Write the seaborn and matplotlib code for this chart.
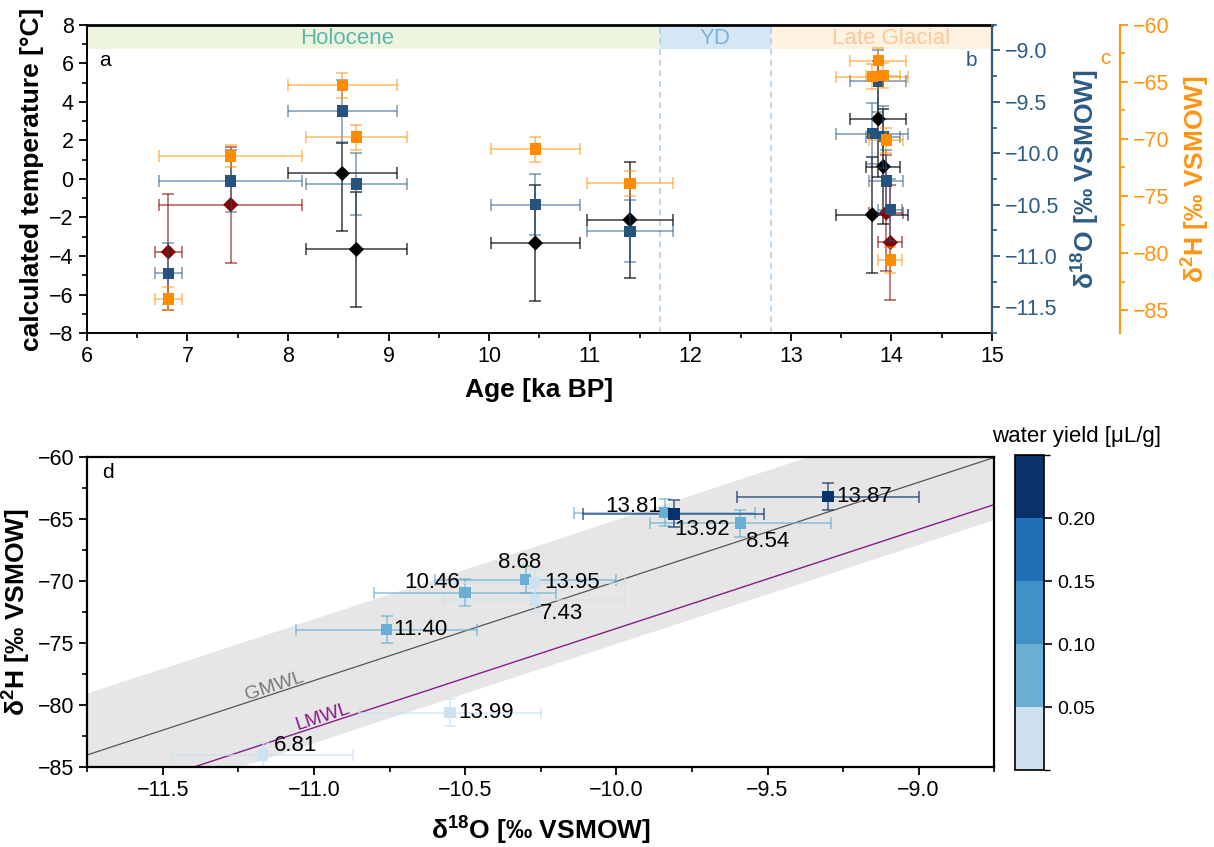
import matplotlib
matplotlib.use("Agg")
import matplotlib.pyplot as plt
from matplotlib.colors import ListedColormap, BoundaryNorm
from matplotlib.cm import ScalarMappable
from matplotlib.ticker import MultipleLocator
import numpy as np
import pandas as pd
import seaborn as sns

# ---------------- data ----------------
# stable isotopes of the fluid inclusions, one entry per sample
ages = [6.81, 7.43, 8.54, 8.68, 10.46, 11.40, 13.92, 13.81, 13.87, 13.95, 13.99]
age_err = [0.135, 0.71, 0.54, 0.50, 0.44, 0.43, 0.17, 0.36, 0.28, 0.17, 0.12]
d18o = [-11.17, -10.27, -9.59, -10.30, -10.50, -10.76, -9.84, -9.81, -9.30, -10.27, -10.55]
d18o_err = [0.3, 0.3, 0.3, 0.3, 0.3, 0.3, 0.3, 0.3, 0.3, 0.3, 0.3]
d2h = [-84.0, -71.5, -65.3, -69.85, -70.9, -73.9, -64.45, -64.55, -63.15, -70.1, -80.6]
d2h_err = [1.0, 1.0, 1.1, 1.1, 1.1, 1.1, 1.1, 1.1, 1.1, 1.1, 1.1]
water_yield = [0.02, 0.03, 0.08, 0.07, 0.08, 0.08, 0.07, 0.22, 0.23, 0.03, 0.02]

# calculated temperatures (reliable samples)
temp_ages = [8.54, 8.68, 10.46, 11.40, 13.81, 13.87, 13.92]
temp_age_err = [0.54, 0.50, 0.44, 0.43, 0.36, 0.28, 0.17]
temp_vals = [0.28, -3.66, -3.33, -2.12, -1.86, 3.11, 0.64]
temp_err_low = [3.0, 3.0, 3.0, 3.0, 3.0, 3.0, 3.0]
temp_err_high = [1.6, 3.0, 3.0, 3.0, 3.0, 3.0, 3.0]

# calculated temperatures (low water yield samples)
temp2_ages = [6.81, 7.43, 13.95, 13.99]
temp2_age_err = [0.135, 0.71, 0.17, 0.12]
temp2_vals = [-3.79, -1.34, -1.77, -3.30]
temp2_err = [3.0, 3.0, 3.0, 3.0]

# climate periods
periods = ["Holocene", "YD", "Late Glacial"]
period_start = [6.0, 11.7, 12.8]
period_end = [11.7, 12.8, 15.0]
period_label_x = [8.59, 12.25, 14.0]
period_fill = ["#edf5e1", "#d5e6f4", "#fef3e2"]
period_text = ["#5bb8a8", "#7fb2dc", "#fcc79b"]

# meteoric water lines: dD = slope * d18O + intercept
gmwl_slope, gmwl_intercept = 8.0, 10.0
lmwl_slope, lmwl_intercept = 8.0, 6.2
band_halfwidth = 5.0

# water-yield classes for the colour scale
yield_bounds = [0.0, 0.05, 0.10, 0.15, 0.20, 0.25]
yield_colors = ["#cde1f0", "#6aaed6", "#4190c6", "#2170b5", "#08326a"]

# ---------------- style ----------------
sns.set_theme(style="ticks")
plt.rcParams["font.family"] = ["Liberation Sans", "DejaVu Sans"]
plt.rcParams["mathtext.fontset"] = "custom"
plt.rcParams["mathtext.rm"] = "Liberation Sans"
plt.rcParams["mathtext.bf"] = "Liberation Sans:bold"
plt.rcParams["axes.linewidth"] = 1.4
plt.rcParams["axes.edgecolor"] = "black"
plt.rcParams["text.color"] = "black"
plt.rcParams["axes.labelcolor"] = "black"
plt.rcParams["xtick.color"] = "black"
plt.rcParams["ytick.color"] = "black"

TICK = 15.5
LABEL = 19
BLUE = "#24537f"
BLUE_AX = "#2d5b84"
ORANGE = "#ff8c00"
ORANGE_AX = "#ff9514"
RED = "#850000"

fig = plt.figure(figsize=(12.14, 8.47), dpi=100)
ax_a = fig.add_axes([0.0716, 0.6068, 0.7455, 0.3640])
ax_d = fig.add_axes([0.0719, 0.0941, 0.7471, 0.3658])
cax = fig.add_axes([0.8361, 0.0909, 0.0240, 0.3719])


def style_ticks(ax, color="black", which_axis="both"):
    ax.tick_params(axis=which_axis, which="major", direction="out", length=6,
                   width=1.3, labelsize=TICK, colors=color)
    ax.tick_params(axis=which_axis, which="minor", direction="out", length=3.5,
                   width=1.2, colors=color)


# ---------------- top panel: temperatures and isotopes vs. age ----------------
ax_b = ax_a.twinx()
ax_c = ax_a.twinx()

for name, x0, x1, xt, fc, tc in zip(periods, period_start, period_end,
                                     period_label_x, period_fill, period_text):
    ax_a.fill_between([x0, x1], 6.73, 8.0, color=fc, lw=0, zorder=0)
    ax_a.text(xt, 7.3, name, color=tc, fontsize=16, ha="center", va="center", zorder=1)
for xb in period_end[:2]:
    ax_a.axvline(xb, color="#a9cbe8", lw=1.1, ls=(0, (4, 3)), zorder=0.5)

ax_a.errorbar(temp2_ages, temp2_vals, yerr=temp2_err, xerr=temp2_age_err, fmt="none",
              ecolor=RED, alpha=0.6, elinewidth=1.2, capsize=4.5, capthick=1.2, zorder=2)
sns.scatterplot(x=temp2_ages, y=temp2_vals, ax=ax_a, marker="D", s=60, color=RED,
                edgecolor="none", zorder=3)
ax_a.errorbar(temp_ages, temp_vals, yerr=[temp_err_low, temp_err_high], xerr=temp_age_err,
              fmt="none", ecolor="black", alpha=0.7, elinewidth=1.2, capsize=4.5,
              capthick=1.2, zorder=2)
sns.scatterplot(x=temp_ages, y=temp_vals, ax=ax_a, marker="D", s=60, color="black",
                edgecolor="none", zorder=3)

ax_b.errorbar(ages, d18o, yerr=d18o_err, xerr=age_err, fmt="none", ecolor=BLUE,
              alpha=0.55, elinewidth=1.2, capsize=4.5, capthick=1.2, zorder=2)
sns.scatterplot(x=ages, y=d18o, ax=ax_b, marker="s", s=68, color=BLUE,
                edgecolor="none", zorder=3)

ax_c.errorbar(ages, d2h, yerr=d2h_err, xerr=age_err, fmt="none", ecolor=ORANGE,
              alpha=0.55, elinewidth=1.2, capsize=4.5, capthick=1.2, zorder=2)
sns.scatterplot(x=ages, y=d2h, ax=ax_c, marker="s", s=68, color=ORANGE,
                edgecolor="none", zorder=3)

ax_a.set_xlim(6, 15)
ax_a.set_ylim(-8, 8)
ax_a.xaxis.set_major_locator(MultipleLocator(1))
ax_a.xaxis.set_minor_locator(MultipleLocator(0.5))
ax_a.yaxis.set_major_locator(MultipleLocator(2))
ax_a.yaxis.set_minor_locator(MultipleLocator(1))
style_ticks(ax_a)
ax_a.spines["right"].set_visible(False)
ax_a.spines["top"].set_linewidth(2.0)
ax_a.set_xlabel("Age [ka BP]", fontsize=LABEL, fontweight="bold", labelpad=8)
ax_a.set_ylabel("calculated temperature [°C]", fontsize=LABEL, fontweight="bold", labelpad=4)

ax_b.set_ylim(-11.75, -8.75)
ax_b.yaxis.set_major_locator(MultipleLocator(0.5))
ax_b.yaxis.set_minor_locator(MultipleLocator(0.25))
for s in ["top", "left", "bottom"]:
    ax_b.spines[s].set_visible(False)
ax_b.spines["right"].set_color(BLUE_AX)
ax_b.spines["right"].set_linewidth(1.6)
style_ticks(ax_b, color=BLUE_AX, which_axis="y")
ax_b.set_ylabel(r"δ$^{\mathbf{18}}$O [‰ VSMOW]", fontsize=LABEL, fontweight="bold",
                color=BLUE_AX, labelpad=6)

ax_c.set_ylim(-87, -60)
ax_c.yaxis.set_major_locator(MultipleLocator(5))
ax_c.yaxis.set_minor_locator(MultipleLocator(2.5))
for s in ["top", "left", "bottom"]:
    ax_c.spines[s].set_visible(False)
ax_c.spines["right"].set_position(("axes", 1.141))
ax_c.spines["right"].set_color(ORANGE_AX)
ax_c.spines["right"].set_linewidth(1.6)
style_ticks(ax_c, color=ORANGE_AX, which_axis="y")
ax_c.set_ylabel(r"δ$^{\mathbf{2}}$H [‰ VSMOW]", fontsize=LABEL, fontweight="bold",
                color=ORANGE_AX, labelpad=6)

ax_a.text(6.12, 6.15, "a", fontsize=15, ha="left", va="center")
ax_a.text(14.85, 6.15, "b", fontsize=15, ha="right", va="center", color=BLUE_AX)
fig.text(1105 / 1214, 1 - 58 / 847, "c", fontsize=15, ha="center", va="center", color=ORANGE_AX)

# ---------------- bottom panel: dual-isotope plot ----------------
cmap = ListedColormap(yield_colors)
norm = BoundaryNorm(yield_bounds, cmap.N)

xline = np.array([-11.75, -8.75])
ax_d.fill_between(xline, gmwl_slope * xline + gmwl_intercept - band_halfwidth,
                  gmwl_slope * xline + gmwl_intercept + band_halfwidth,
                  color="#e6e6e6", lw=0, zorder=0)
ax_d.plot(xline, gmwl_slope * xline + gmwl_intercept, color="#555555", lw=0.9, zorder=1)
ax_d.plot(xline, lmwl_slope * xline + lmwl_intercept, color="#8b1a8b", lw=1.0, zorder=1)

point_colors = [cmap(norm(w)) for w in water_yield]
for x, y, ex, ey, c in zip(d18o, d2h, d18o_err, d2h_err, point_colors):
    ax_d.errorbar(x, y, xerr=ex, yerr=ey, fmt="none", ecolor=c, alpha=0.7,
                  elinewidth=1.2, capsize=4.5, capthick=1.2, zorder=2)

df_iso = pd.DataFrame({"d18o": d18o, "d2h": d2h, "age": ages,
                       "cls": [int(norm(w)) for w in water_yield]})
for i, row in df_iso.iterrows():
    sns.scatterplot(x=[row["d18o"]], y=[row["d2h"]], ax=ax_d, marker="s", s=68,
                    color=yield_colors[int(row["cls"])], edgecolor="none",
                    zorder=3 + i * 0.01)

# label offsets (points) for each sample's age
label_offset = {6.81: (8, 7, "left"), 7.43: (4, -10, "left"), 8.54: (4, -13, "left"),
                8.68: (-4, 12, "center"), 10.46: (-4, 7, "right"), 11.40: (5, 0, "left"),
                13.92: (7, -12, "left"), 13.81: (-9, 5, "right"), 13.87: (6, 0, "left"),
                13.95: (7, 0, "left"), 13.99: (6, 0, "left")}
for x, y, a in zip(d18o, d2h, ages):
    dx, dy, ha = label_offset[a]
    ax_d.annotate(f"{a:.2f}", (x, y), xytext=(dx, dy), textcoords="offset points",
                  fontsize=16, ha=ha, va="center", zorder=5)

ax_d.set_xlim(-11.75, -8.75)
ax_d.set_ylim(-85, -60)
ax_d.xaxis.set_major_locator(MultipleLocator(0.5))
ax_d.xaxis.set_minor_locator(MultipleLocator(0.25))
ax_d.yaxis.set_major_locator(MultipleLocator(5))
ax_d.yaxis.set_minor_locator(MultipleLocator(2.5))
style_ticks(ax_d)
for s in ax_d.spines.values():
    s.set_linewidth(1.6)
ax_d.set_xlabel(r"δ$^{\mathbf{18}}$O [‰ VSMOW]", fontsize=LABEL, fontweight="bold", labelpad=8)
ax_d.set_ylabel(r"δ$^{\mathbf{2}}$H [‰ VSMOW]", fontsize=LABEL, fontweight="bold", labelpad=4)

ang = np.degrees(np.arctan(8 * 12.28 / 301))
ax_d.text(-11.13, -78.5, "GMWL", color="#7a7a7a", fontsize=14, rotation=ang,
          ha="center", va="center", rotation_mode="anchor")
ax_d.text(-10.97, -80.9, "LMWL", color="#8b1a8b", fontsize=14, rotation=ang,
          ha="center", va="center", rotation_mode="anchor")
ax_d.text(-11.7, -61.2, "d", fontsize=15, ha="left", va="center")

# colour bar of water yield
sm = ScalarMappable(norm=norm, cmap=cmap)
cb = fig.colorbar(sm, cax=cax, ticks=[0.05, 0.10, 0.15, 0.20])
cb.ax.tick_params(labelsize=14, length=6, width=1.2, colors="black")
cb.ax.set_yticklabels(["0.05", "0.10", "0.15", "0.20"])
cb.outline.set_linewidth(1.2)
fig.text(1077 / 1214, 1 - 436 / 847, "water yield [μL/g]", fontsize=16,
         ha="center", va="center")

fig.savefig("out.png", dpi=100)
